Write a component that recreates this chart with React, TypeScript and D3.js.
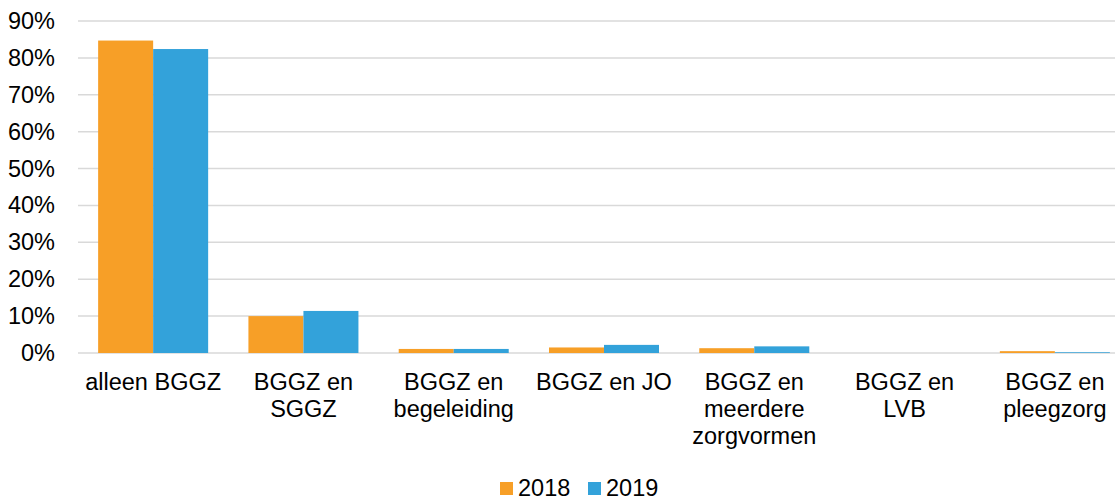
import React, { useRef, useEffect } from 'react';
import * as d3 from 'd3';

const categories = [
  ['alleen BGGZ'],
  ['BGGZ en', 'SGGZ'],
  ['BGGZ en', 'begeleiding'],
  ['BGGZ en JO'],
  ['BGGZ en', 'meerdere', 'zorgvormen'],
  ['BGGZ en', 'LVB'],
  ['BGGZ en', 'pleegzorg'],
];
const series = ['2018', '2019'];
const values2018 = [84.7, 10.0, 1.1, 1.5, 1.3, 0, 0.5];
const values2019 = [82.4, 11.4, 1.1, 2.2, 1.8, 0, 0.2];
const yTicks = [0, 10, 20, 30, 40, 50, 60, 70, 80, 90];
const colors = ['#F79F27', '#33A2DA'];

export default function App() {
  const svgRef = useRef<SVGSVGElement>(null);

  useEffect(() => {
    const svg = d3.select(svgRef.current);
    svg.selectAll('*').remove();

    const width = 1115;
    const height = 500;
    const margin = { top: 21, bottom: 147, left: 78 };
    const plotRight = 1130; // plot area runs past the picture edge
    const font = 'Liberation Sans, Arial, sans-serif';
    const fs = 23.5;

    const x = d3.scaleBand<number>()
      .domain(categories.map((_, i) => i))
      .range([margin.left, plotRight])
      .paddingInner(0.268)
      .paddingOuter(0.134);

    const xSub = d3.scaleBand<string>()
      .domain(series)
      .range([0, x.bandwidth()]);

    const y = d3.scaleLinear()
      .domain([0, 90])
      .range([height - margin.bottom, margin.top]);

    // gridlines
    svg.append('g')
      .selectAll('line')
      .data(yTicks)
      .join('line')
      .attr('x1', margin.left)
      .attr('x2', width)
      .attr('y1', d => y(d))
      .attr('y2', d => y(d))
      .attr('stroke', '#d9d9d9')
      .attr('stroke-width', 1.5);

    // y labels
    svg.append('g')
      .selectAll('text')
      .data(yTicks)
      .join('text')
      .attr('x', 55)
      .attr('y', d => y(d) + 8)
      .attr('text-anchor', 'end')
      .attr('font-family', font)
      .attr('font-size', fs)
      .attr('fill', '#000')
      .text(d => `${d}%`);

    // bars
    const data = [values2018, values2019];
    data.forEach((vals, s) => {
      svg.append('g')
        .selectAll('rect')
        .data(vals)
        .join('rect')
        .attr('x', (_, i) => (x(i) as number) + (xSub(series[s]) as number))
        .attr('y', d => y(d))
        .attr('width', xSub.bandwidth())
        .attr('height', d => y(0) - y(d))
        .attr('fill', colors[s]);
    });

    // category labels
    const labels = svg.append('g')
      .selectAll('text')
      .data(categories)
      .join('text')
      .attr('text-anchor', 'middle')
      .attr('font-family', font)
      .attr('font-size', fs)
      .attr('fill', '#000');
    labels.each(function (lines, i) {
      const t = d3.select(this);
      const cx = (x(i) as number) + x.bandwidth() / 2;
      lines.forEach((line, j) => {
        t.append('tspan')
          .attr('x', cx)
          .attr('y', 390 + j * 27)
          .text(line);
      });
    });

    // legend
    const legend = svg.append('g');
    const legendX = [500, 588];
    series.forEach((s, i) => {
      legend.append('rect')
        .attr('x', legendX[i])
        .attr('y', 482)
        .attr('width', 13)
        .attr('height', 13)
        .attr('fill', colors[i]);
      legend.append('text')
        .attr('x', legendX[i] + 18)
        .attr('y', 496)
        .attr('font-family', font)
        .attr('font-size', fs)
        .attr('fill', '#000')
        .text(s);
    });
  }, []);

  return (
    <svg
      ref={svgRef}
      width={1115}
      height={500}
      style={{ position: 'absolute', left: 0, top: 0, background: '#fff' }}
    />
  );
}
